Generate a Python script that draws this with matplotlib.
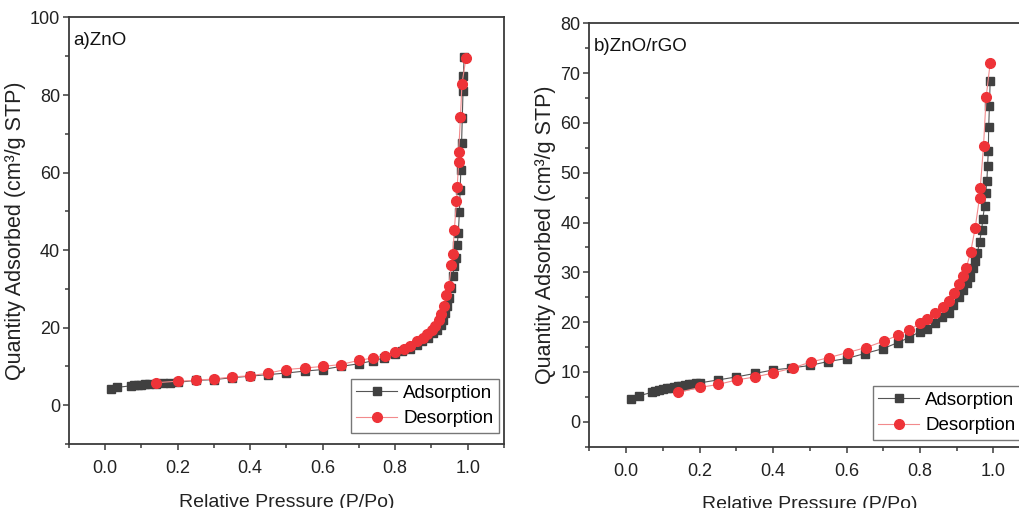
import numpy as np
import matplotlib
matplotlib.use("Agg")
import matplotlib.pyplot as plt
from matplotlib.ticker import MultipleLocator

plt.rcParams['font.family'] = ['Liberation Sans', 'DejaVu Sans']

# ZnO isotherm
zno_ads_p = [0.016, 0.033, 0.07, 0.08, 0.09, 0.10, 0.11, 0.12, 0.14, 0.16, 0.18, 0.20,
             0.25, 0.30, 0.35, 0.40, 0.45, 0.50, 0.55, 0.60, 0.65, 0.70, 0.74, 0.77,
             0.80, 0.82, 0.84, 0.86, 0.875, 0.89, 0.905, 0.915, 0.925, 0.932, 0.938,
             0.943, 0.948, 0.953, 0.958, 0.963, 0.967, 0.971, 0.974, 0.977, 0.979,
             0.981, 0.983, 0.985, 0.987, 0.988, 0.990]
zno_ads_q = [4.2, 4.6, 5.0, 5.1, 5.2, 5.3, 5.4, 5.5, 5.6, 5.7, 5.8, 5.9,
             6.4, 6.6, 7.1, 7.5, 7.9, 8.3, 8.8, 9.2, 10.0, 10.7, 11.5, 12.2,
             13.1, 13.9, 14.5, 15.6, 16.5, 17.4, 18.6, 19.5, 20.8, 22.1, 23.8,
             25.5, 27.7, 30.2, 33.2, 35.8, 38.0, 41.4, 44.4, 49.8, 55.4,
             60.7, 67.6, 74.0, 81.1, 85.0, 89.7]
zno_des_p = [0.995, 0.984, 0.980, 0.975, 0.975, 0.971, 0.969, 0.963, 0.959, 0.955,
             0.948, 0.941, 0.934, 0.926, 0.920, 0.911, 0.902, 0.888, 0.877, 0.860,
             0.842, 0.823, 0.800, 0.773, 0.740, 0.701, 0.650, 0.600, 0.550, 0.499,
             0.450, 0.400, 0.351, 0.301, 0.250, 0.200, 0.139]
zno_des_q = [89.5, 82.8, 74.4, 65.4, 62.7, 56.4, 52.7, 45.1, 39.0, 36.1,
             30.8, 28.3, 25.7, 23.4, 21.9, 20.5, 19.5, 18.4, 17.4, 16.5,
             15.2, 14.5, 13.7, 12.8, 12.2, 11.6, 10.5, 10.0, 9.6, 9.2,
             8.3, 7.6, 7.3, 6.8, 6.4, 6.2, 5.8]

# ZnO/rGO isotherm
rgo_ads_p = [0.014, 0.034, 0.07, 0.08, 0.09, 0.10, 0.11, 0.12, 0.13, 0.14, 0.15,
             0.16, 0.17, 0.18, 0.19, 0.20, 0.25, 0.30, 0.35, 0.40, 0.45, 0.50,
             0.55, 0.60, 0.65, 0.70, 0.74, 0.77, 0.80, 0.82, 0.84, 0.86, 0.878,
             0.891, 0.907, 0.918, 0.928, 0.937, 0.944, 0.950, 0.956, 0.962,
             0.968, 0.971, 0.976, 0.979, 0.982, 0.984, 0.986, 0.987, 0.989, 0.991]
rgo_ads_q = [4.5, 5.2, 5.9, 6.1, 6.3, 6.5, 6.7, 6.8, 7.0, 7.1, 7.2,
             7.3, 7.5, 7.6, 7.7, 7.8, 8.4, 9.0, 9.7, 10.4, 10.8, 11.3,
             12.1, 12.7, 13.7, 14.7, 15.9, 16.9, 18.1, 18.7, 19.9, 21.0, 21.9,
             23.4, 25.1, 26.4, 27.8, 29.1, 30.8, 32.3, 33.8, 36.1,
             38.5, 40.8, 43.3, 46.0, 48.3, 51.4, 54.4, 59.2, 63.3, 68.4]
rgo_des_p = [0.991, 0.980, 0.973, 0.964, 0.962, 0.950, 0.938, 0.926, 0.918, 0.907,
             0.893, 0.878, 0.862, 0.841, 0.820, 0.800, 0.771, 0.741, 0.702, 0.653,
             0.603, 0.553, 0.503, 0.453, 0.401, 0.351, 0.301, 0.251, 0.201, 0.142]
rgo_des_q = [72.0, 65.1, 55.4, 46.9, 45.0, 38.8, 34.1, 30.9, 29.3, 27.6,
             25.9, 24.3, 23.1, 21.8, 20.6, 19.8, 18.4, 17.4, 16.2, 14.9,
             13.9, 12.9, 12.0, 10.8, 9.8, 9.0, 8.4, 7.5, 6.9, 5.9]

panels = [
    dict(label="a)ZnO", ads=(zno_ads_p, zno_ads_q), des=(zno_des_p, zno_des_q),
         ylim=(-10, 100), major=20, minor=10,
         rect=[0.0676, 0.126, 0.4265, 0.8396], leg=(0.9885, 0.026)),
    dict(label="b)ZnO/rGO", ads=(rgo_ads_p, rgo_ads_q), des=(rgo_des_p, rgo_des_q),
         ylim=(-5, 80), major=10, minor=5,
         rect=[0.5778, 0.1207, 0.4322, 0.8335], leg=(0.979, 0.016)),
]

spine_col = "#3a3a3a"
ads_col = "#404040"
des_col = "#ee3338"

fig = plt.figure(figsize=(10.2, 5.08), dpi=100)

for p in panels:
    ax = fig.add_axes(p["rect"])
    ax.plot(*p["ads"], color="#555555", lw=0.8, marker="s", ms=6,
            mfc=ads_col, mec=ads_col, label="Adsorption", zorder=2)
    ax.plot(*p["des"], color="#f28a8c", lw=0.8, marker="o", ms=7,
            mfc=des_col, mec=des_col, label="Desorption", zorder=3)

    ax.set_xlim(-0.1, 1.1)
    ax.set_ylim(*p["ylim"])
    ax.xaxis.set_major_locator(MultipleLocator(0.2))
    ax.xaxis.set_minor_locator(MultipleLocator(0.1))
    ax.yaxis.set_major_locator(MultipleLocator(p["major"]))
    ax.yaxis.set_minor_locator(MultipleLocator(p["minor"]))
    ax.xaxis.set_major_formatter(plt.FuncFormatter(lambda v, _: f"{v:.1f}"))

    for s in ax.spines.values():
        s.set_color(spine_col)
        s.set_linewidth(1.3)
    ax.tick_params(which="both", direction="out", color=spine_col, width=1.1,
                   labelsize=13, labelcolor="#222222", top=False, right=False)
    ax.tick_params(which="major", length=4.5)
    ax.tick_params(which="minor", length=3)
    ax.tick_params(axis="x", which="major", pad=7)
    ax.tick_params(axis="y", which="major", pad=2)

    ax.set_xlabel("Relative Pressure (P/Po)", fontsize=14, labelpad=12, color="#222222")
    ax.set_ylabel("Quantity Adsorbed (cm³/g STP)", fontsize=15.5, labelpad=3, color="#222222")

    ax.text(0.01, 0.965, p["label"], transform=ax.transAxes, fontsize=13.5,
            ha="left", va="top", color="#111111")

    leg = ax.legend(loc="lower right", bbox_to_anchor=p["leg"], borderaxespad=0,
                    fontsize=13.5, handlelength=2.2, handletextpad=0.3,
                    labelspacing=0.45, borderpad=0.3, fancybox=False,
                    framealpha=1, edgecolor="#777777")
    leg.get_frame().set_linewidth(1.0)

fig.savefig("out.png", dpi=100)
